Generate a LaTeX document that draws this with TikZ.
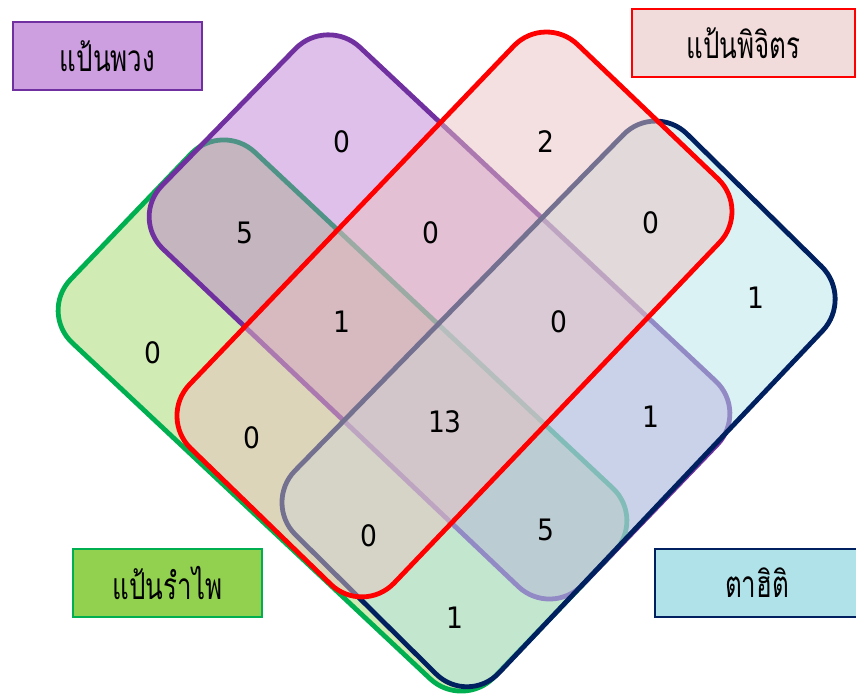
\documentclass[tikz,border=0pt]{standalone}
\usepackage{graphicx}
\usepackage{fontspec}
\newfontfamily\thaifont[Script=Thai]{Loma}
\newfontfamily\numfont{DejaVu Sans Condensed}
\newcommand\mythailab[1]{\scalebox{0.7}[1]{#1}}
\definecolor{pline}{HTML}{7030A0}
\definecolor{pfill}{RGB}{182,112,207}
\definecolor{rline}{HTML}{FF0000}
\definecolor{rfill}{RGB}{233,193,193}
\definecolor{nline}{HTML}{002060}
\definecolor{nfill}{RGB}{181,229,233}
\definecolor{gline}{HTML}{00B050}
\definecolor{gfill}{HTML}{92D050}
\definecolor{pbox}{RGB}{205,158,224}
\definecolor{rbox}{HTML}{F2DCDB}
\definecolor{gbox}{HTML}{92D050}
\definecolor{nbox}{RGB}{176,226,234}
\begin{document}
\begin{tikzpicture}[x=1pt,y=-1pt,
  setshape/.style={rounded corners=45pt, line width=4.8pt, line join=round},
  num/.style={font=\numfont\fontsize{29.5}{32}\selectfont, inner sep=0pt, text=black},
  labbox/.style={font=\thaifont\fontsize{37}{40}\selectfont, line width=1.6pt,
     minimum height=68pt, inner sep=0pt, text=black}]
\useasboundingbox (0,0) rectangle (856,693);
\clip (0,0) rectangle (856,693);
% sets: green, purple, navy, red (bottom to top)
\draw[setshape, draw=gline, fill=gfill, fill opacity=0.43]
  (39.4,312) -- (222,121.4) -- (645.6,519) -- (463,709.6) -- cycle;
\draw[setshape, draw=pline, fill=pfill, fill opacity=0.44]
  (130.4,218) -- (327,16.4) -- (748.6,412) -- (551,617.6) -- cycle;
\draw[setshape, draw=nline, fill=nfill, fill opacity=0.5]
  (263.4,503) -- (655,102.4) -- (853.6,298) -- (468,705.6) -- cycle;
\draw[setshape, draw=rline, fill=rfill, fill opacity=0.5]
  (158.4,417) -- (545,13.4) -- (750.6,210) -- (363,615.6) -- cycle;
% counts
\node[num] (pOnly) at (342,142) {0};
\node[num] (rOnly) at (546,142) {2};
\node[num] (gp) at (245,233) {5};
\node[num] (pr) at (431,233) {0};
\node[num] (rn) at (651,223) {0};
\node[num] (gOnly) at (153,353) {0};
\node[num] (gpr) at (342,322) {1};
\node[num] (prn) at (559,322) {0};
\node[num] (nOnly) at (756,298) {1};
\node[num] (gr) at (252,438) {0};
\node[num] (all) at (445,422) {13};
\node[num] (pn) at (651,417) {1};
\node[num] (grn) at (369,536) {0};
\node[num] (gpn) at (546,530) {5};
\node[num] (gn) at (455,618) {1};
% labels
\node[labbox, draw=pline, fill=pbox, minimum width=189pt] (labP) at (107.5,56) {\mythailab{แป้นพวง}};
\node[labbox, draw=rline, fill=rbox, minimum width=223pt] (labR) at (743.5,43) {\mythailab{แป้นพิจิตร}};
\node[labbox, draw=gline, fill=gbox, minimum width=189pt] (labG) at (167.5,583) {\mythailab{แป้นรำไพ}};
\node[labbox, draw=nline, fill=nbox, minimum width=204pt] (labN) at (757,583) {\mythailab{ตาฮิติ}};
\end{tikzpicture}
\end{document}
